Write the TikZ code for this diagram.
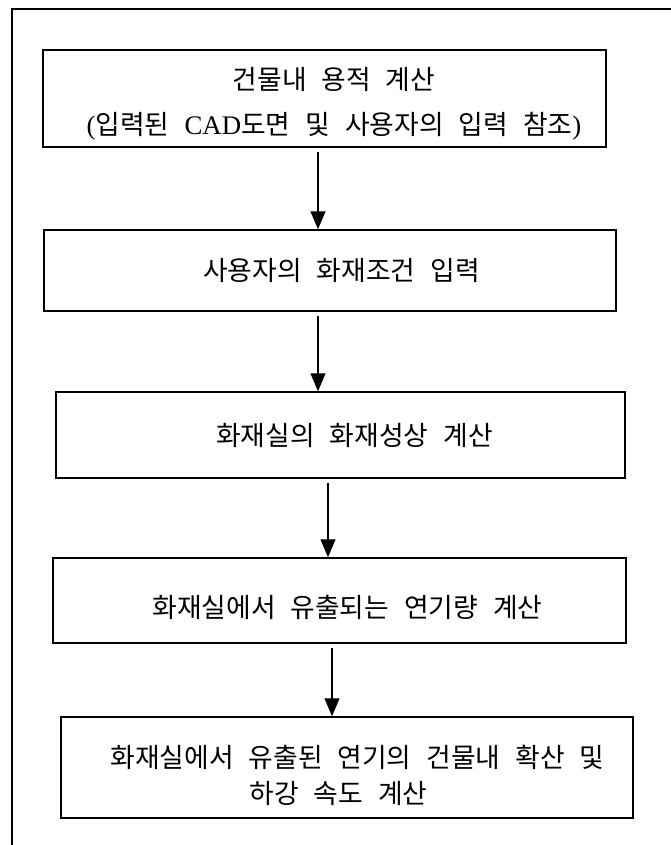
\documentclass[tikz,border=0pt]{standalone}
\usepackage{fontspec}
\setmainfont{Noto Sans CJK KR}[WordSpace=2.5]
\newfontfamily\latinfont{Liberation Serif}
\usetikzlibrary{arrows.meta}

\tikzset{
    stepbox/.style={draw, line width=1.5pt, rectangle, inner sep=0pt},
    steptext/.style={align=center, inner sep=0pt, font=\fontsize{26.8}{36}\selectfont},
    flow/.style={line width=1.2pt, -{Triangle[length=18pt, width=15pt]}, shorten <=4pt},
}

\begin{document}
\begin{tikzpicture}[x=1pt, y=-1pt]
    \useasboundingbox (0, 0) rectangle (671, 845);
    % page frame, cut at right and bottom
    \draw[line width=1.3pt] (12, 845) -- (12, 9) -- (671, 9);

    \node[stepbox, minimum width=563pt, minimum height=97pt] (b1) at (324.5, 98.5) {};
    \node[stepbox, minimum width=572pt, minimum height=81pt] (b2) at (330, 270.5) {};
    \node[stepbox, minimum width=569pt, minimum height=86pt] (b3) at (340.5, 435) {};
    \node[stepbox, minimum width=573pt, minimum height=85pt] (b4) at (339.5, 600.5) {};
    \node[stepbox, minimum width=572pt, minimum height=101pt] (b5) at (347, 767.5) {};

    \node[steptext] (t1) at (334, 104) {건물내 용적 계산\\[9pt]{\latinfont (}입력된 {\latinfont CAD}도면 및 사용자의 입력 참조{\latinfont )}};
    \node[steptext] (t2) at (341.5, 270) {사용자의 화재조건 입력};
    \node[steptext] (t3) at (354.5, 435) {화재실의 화재성상 계산};
    \node[steptext] (t4) at (347.5, 607) {화재실에서 유출되는 연기량 계산};
    \node[steptext] (t5) at (357.5, 775) {화재실에서 유출된 연기의 건물내 확산 및\\하강 속도 계산\hspace*{38pt}};

    \draw[flow] ([xshift=-6.5pt]b1.south) -- ([xshift=-6.5pt]b1.south |- b2.north);
    \draw[flow] ([xshift=-12pt]b2.south) -- ([xshift=-12pt]b2.south |- b3.north);
    \draw[flow] ([xshift=-12.5pt]b3.south) -- ([xshift=-12.5pt]b3.south |- b4.north);
    \draw[flow] ([xshift=-7.5pt]b4.south) -- ([xshift=-7.5pt]b4.south |- b5.north);
\end{tikzpicture}
\end{document}
